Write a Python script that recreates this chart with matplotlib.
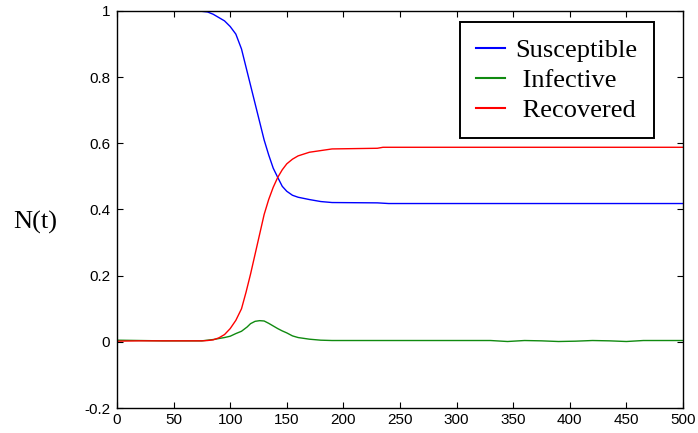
import matplotlib
matplotlib.use('Agg')
import matplotlib.pyplot as plt

# curvas (t, fracción de población)
t_s = [0, 20, 40, 60, 72, 80, 85, 90, 95, 100, 105, 110, 114, 118, 122, 126, 130,
       134, 138, 142, 146, 150, 155, 160, 170, 180, 190, 230, 240, 300, 400, 500]
susc = [1.0, 1.0, 1.0, 1.0, 1.0, 0.997, 0.99, 0.98, 0.97, 0.953, 0.93, 0.885, 0.83,
        0.775, 0.72, 0.665, 0.61, 0.565, 0.525, 0.497, 0.47, 0.455, 0.443, 0.437,
        0.43, 0.424, 0.421, 0.42, 0.418, 0.418, 0.418, 0.418]

t_r = [0, 20, 40, 60, 75, 80, 85, 90, 95, 100, 105, 110, 114, 118, 122, 126, 130,
       134, 138, 142, 146, 150, 155, 160, 170, 180, 190, 230, 235, 300, 400, 500]
recov = [0.002, 0.003, 0.003, 0.003, 0.003, 0.004, 0.006, 0.012, 0.022, 0.04, 0.065,
         0.1, 0.15, 0.205, 0.265, 0.325, 0.385, 0.43, 0.467, 0.497, 0.52, 0.538, 0.552,
         0.562, 0.573, 0.578, 0.583, 0.585, 0.588, 0.588, 0.588, 0.588]

t_i = [0, 20, 40, 60, 75, 85, 95, 100, 105, 110, 115, 118, 122, 126, 130, 134, 138,
       142, 146, 150, 155, 160, 170, 180, 190, 250, 330, 345, 360, 375, 390, 405,
       420, 435, 450, 465, 480, 500]
infec = [0.005, 0.004, 0.003, 0.003, 0.003, 0.007, 0.013, 0.017, 0.025, 0.032, 0.045,
         0.055, 0.062, 0.064, 0.063, 0.056, 0.048, 0.04, 0.033, 0.027, 0.018, 0.013,
         0.008, 0.005, 0.004, 0.004, 0.004, 0.001, 0.004, 0.003, 0.001, 0.002,
         0.004, 0.003, 0.001, 0.004, 0.004, 0.004]

xticks = list(range(0, 501, 50))
yticks = [-0.2, 0, 0.2, 0.4, 0.6, 0.8, 1]
yticklabels = ['-0.2', '0', '0.2', '0.4', '0.6', '0.8', '1']

fig = plt.figure(figsize=(6.98, 4.33), dpi=100)
ax = fig.add_axes([0.1676, 0.0577, 0.8109, 0.917])

ax.plot(t_s, susc, color='#0000ff', lw=1.0, label='Susceptible')
ax.plot(t_i, infec, color='#108a10', lw=1.0, label=' Infective')
ax.plot(t_r, recov, color='#ff0000', lw=1.0, label=' Recovered')

ax.set_xlim(0, 500)
ax.set_ylim(-0.2, 1)
ax.set_xticks(xticks)
ax.set_xticklabels([str(x) for x in xticks], fontfamily='Liberation Sans', fontsize=11)
ax.set_yticks(yticks)
ax.set_yticklabels(yticklabels, fontfamily='Liberation Sans', fontsize=11)
ax.tick_params(direction='in', top=True, right=True, length=4, width=0.8)
ax.tick_params(axis='y', pad=5)
ax.tick_params(axis='x', pad=3.5)
for s in ax.spines.values():
    s.set_linewidth(1.0)

ax.set_ylabel('N(t)', fontfamily='Liberation Serif', fontsize=19, rotation=0,
              va='center', ha='center')
ax.yaxis.set_label_coords(-0.145, 0.4685)

leg = ax.legend(loc='upper right', bbox_to_anchor=(0.9488, 0.9723),
                prop={'family': 'Liberation Serif', 'size': 19}, fancybox=False,
                framealpha=1, edgecolor='black', handlelength=1.1, handletextpad=0.4,
                borderpad=0.62, labelspacing=0.25, borderaxespad=0)
leg.get_frame().set_linewidth(1.4)
for h in leg.get_lines():
    h.set_linewidth(1.5)

fig.savefig('out.png', dpi=100)
